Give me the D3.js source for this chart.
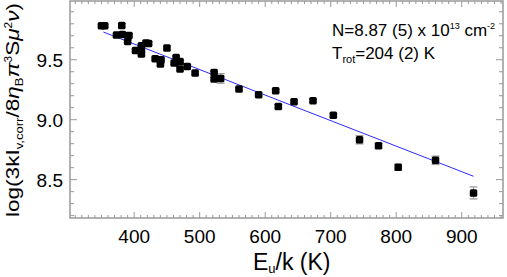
<!DOCTYPE html>
<html lang='en'>
	<head>
		<meta charset='UTF-8'>
		<title>Rotation diagram</title>
		<style>
			body { margin: 0; background: #fff; }
			text { font-family: 'Liberation Sans', Arial, Helvetica, sans-serif; fill: #000; }
		</style>
	</head>
	<body>
		<svg id='graph' width='507' height='277'></svg>

		<script src='https://d3js.org/d3.v7.min.js'></script>
		<script>
			// upper level energies (K), log column values and their errors
			const eu = [350, 355, 381, 373, 382, 392, 390, 402, 411, 411, 411, 418, 422, 450, 432, 441, 440, 464, 461, 470, 470, 481, 493, 522, 522, 532, 560, 590, 616, 620, 644, 673, 704, 744, 773, 803, 860, 918]
			const logN = [9.783, 9.783, 9.786, 9.706, 9.711, 9.703, 9.653, 9.577, 9.617, 9.583, 9.548, 9.639, 9.636, 9.598, 9.508, 9.500, 9.464, 9.519, 9.473, 9.486, 9.423, 9.444, 9.389, 9.394, 9.339, 9.344, 9.256, 9.208, 9.242, 9.111, 9.150, 9.158, 9.036, 8.833, 8.783, 8.603, 8.661, 8.389]
			const err = [0.01, 0.01, 0.015, 0.01, 0.01, 0.01, 0.01, 0.01, 0.01, 0.01, 0.01, 0.01, 0.01, 0.015, 0.01, 0.01, 0.01, 0.01, 0.01, 0.01, 0.01, 0.01, 0.01, 0.01, 0.01, 0.04, 0.01, 0.01, 0.01, 0.015, 0.01, 0.01, 0.015, 0.035, 0.02, 0.025, 0.035, 0.05]

			// fitted line end points
			const fitX = [353, 918]
			const fitY = [9.731, 8.528]

			const xTicks = [400, 500, 600, 700, 800, 900]
			const yTicks = [8.5, 9.0, 9.5]

			const svg = d3.select('#graph')
			const mLeft = 70, mRight = 503, mTop = 1, mBottom = 218
			const axisColor = '#999'

			const xScale = d3.scaleLinear().domain([302, 963]).range([mLeft, mRight])
			const yScale = d3.scaleLinear().domain([8.18, 9.99]).range([mBottom, mTop])

			const data = eu.map((e, i) => ({ x: e, y: logN[i], e: err[i] }))

			// frame
			svg.append('rect')
				.attr('x', mLeft).attr('y', mTop)
				.attr('width', mRight - mLeft).attr('height', mBottom - mTop)
				.attr('fill', 'none')
				.attr('stroke', axisColor)
				.attr('stroke-width', 1.5)

			// ticks on all four sides, pointing inward
			const xMinor = d3.range(310, 961, 10)
			const yMinor = d3.range(8.2, 9.99, 0.1)
			const tickG = svg.append('g').attr('stroke', axisColor).attr('stroke-width', 1)
			xMinor.forEach((v) => {
				const major = Math.abs(v % 100) < 1e-6
				const len = major ? 6 : 3
				const x = xScale(v)
				tickG.append('line').attr('x1', x).attr('x2', x).attr('y1', mBottom).attr('y2', mBottom - len)
				tickG.append('line').attr('x1', x).attr('x2', x).attr('y1', mTop).attr('y2', mTop + len)
			})
			yMinor.forEach((v) => {
				const major = Math.abs(v * 2 - Math.round(v * 2)) < 1e-6
				const len = major ? 7 : 4
				const y = yScale(v)
				tickG.append('line').attr('x1', mLeft).attr('x2', mLeft + len).attr('y1', y).attr('y2', y)
				tickG.append('line').attr('x1', mRight).attr('x2', mRight - len).attr('y1', y).attr('y2', y)
			})

			// tick labels
			svg.selectAll('.xlab')
				.data(xTicks)
				.enter()
				.append('text')
				.attr('x', (d) => xScale(d))
				.attr('y', 243)
				.attr('text-anchor', 'middle')
				.attr('font-size', 19)
				.text((d) => d)

			svg.selectAll('.ylab')
				.data(yTicks)
				.enter()
				.append('text')
				.attr('x', mLeft - 7)
				.attr('y', (d) => yScale(d) + 7)
				.attr('text-anchor', 'end')
				.attr('font-size', 19)
				.text((d) => d.toFixed(1))

			// fit line
			svg.append('line')
				.attr('x1', xScale(fitX[0])).attr('y1', yScale(fitY[0]))
				.attr('x2', xScale(fitX[1])).attr('y2', yScale(fitY[1]))
				.attr('stroke', '#2b2bff')
				.attr('stroke-width', 1)

			// error bars
			const errG = svg.append('g').attr('stroke', '#999').attr('stroke-width', 1.2)
			data.forEach((d) => {
				const x = xScale(d.x)
				const y1 = yScale(d.y - d.e), y2 = yScale(d.y + d.e)
				errG.append('line').attr('x1', x).attr('x2', x).attr('y1', y1).attr('y2', y2)
				errG.append('line').attr('x1', x - 4).attr('x2', x + 4).attr('y1', y1).attr('y2', y1)
				errG.append('line').attr('x1', x - 4).attr('x2', x + 4).attr('y1', y2).attr('y2', y2)
			})

			// points
			svg.selectAll('.pt')
				.data(data)
				.enter()
				.append('rect')
				.attr('x', (d) => xScale(d.x) - 3.75)
				.attr('y', (d) => yScale(d.y) - 3.75)
				.attr('width', 7.5)
				.attr('height', 7.5)
				.attr('rx', 1.5)
				.attr('fill', '#000')

			// annotation
			const ann1 = svg.append('text').attr('x', 332).attr('y', 36).attr('font-size', 17)
			ann1.append('tspan').text('N=8.87 (5) x 10')
			ann1.append('tspan').attr('font-size', 9).attr('dy', -7).text('13')
			ann1.append('tspan').attr('dy', 7).text(' cm')
			ann1.append('tspan').attr('font-size', 9).attr('dy', -7).text('-2')

			const ann2 = svg.append('text').attr('x', 332).attr('y', 59).attr('font-size', 17)
			ann2.append('tspan').text('T')
			ann2.append('tspan').attr('font-size', 11).attr('dy', 4).text('rot')
			ann2.append('tspan').attr('dy', -4).text('=204 (2) K')

			// x title
			const xt = svg.append('text').attr('x', 253).attr('y', 270).attr('font-size', 23)
			xt.append('tspan').text('E')
			xt.append('tspan').attr('font-size', 13).attr('dy', 3).text('u')
			xt.append('tspan').attr('dy', -3).text('/k (K)')

			// y title
			const yt = svg.append('text')
				.attr('transform', 'translate(19,110) rotate(-90)')
				.attr('text-anchor', 'middle')
				.attr('font-size', 19)
				.attr('textLength', 214)
				.attr('lengthAdjust', 'spacingAndGlyphs')
			yt.append('tspan').text('log(3kI')
			yt.append('tspan').attr('font-size', 11).attr('dy', 4).text('v,corr')
			yt.append('tspan').attr('dy', -4).text('/8')
			yt.append('tspan').attr('font-style', 'italic').text('η')
			yt.append('tspan').attr('font-size', 11).attr('dy', 4).text('B')
			yt.append('tspan').attr('dy', -4).attr('font-style', 'italic').text('π')
			yt.append('tspan').attr('font-size', 10).attr('dy', -7).text('3')
			yt.append('tspan').attr('dy', 7).text('S')
			yt.append('tspan').attr('font-style', 'italic').text('μ')
			yt.append('tspan').attr('font-size', 10).attr('dy', -7).text('2')
			yt.append('tspan').attr('dy', 7).attr('font-style', 'italic').text('ν')
			yt.append('tspan').text(')')
		</script>
	</body>
</html>
